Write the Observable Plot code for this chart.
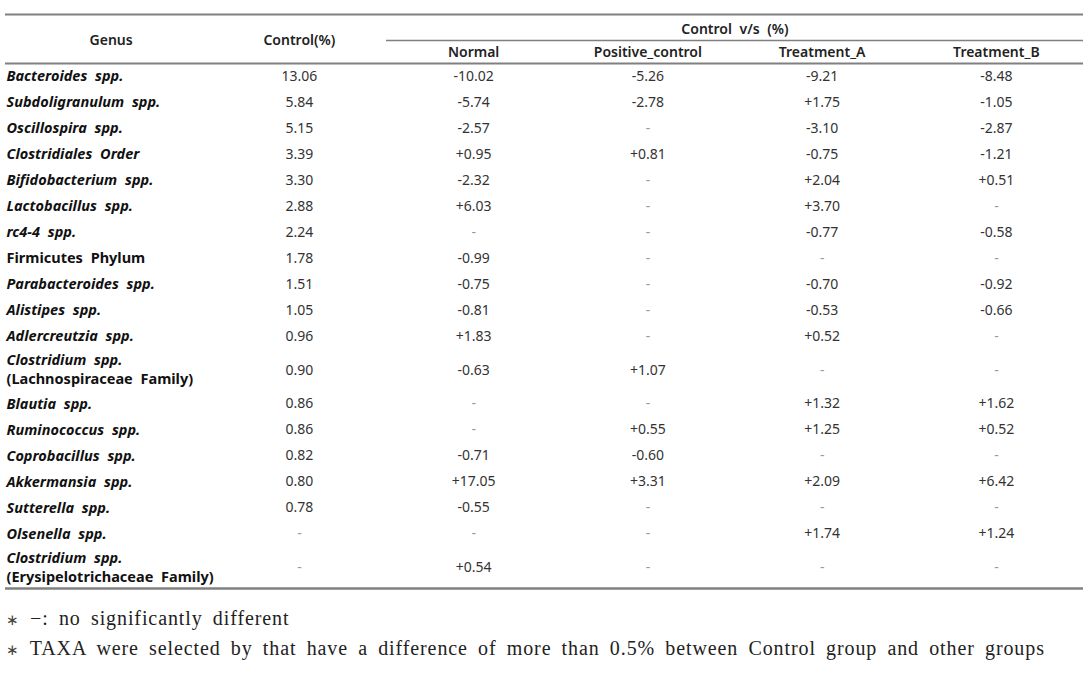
<!DOCTYPE html>
<html><head><meta charset="utf-8">
<script src="https://cdn.jsdelivr.net/npm/d3@7"></script>
<script src="https://cdn.jsdelivr.net/npm/@observablehq/plot@0.6"></script>
<style>
body{margin:0;background:#fff;}
#notes{font-family:"Liberation Serif",serif;font-size:20px;color:#222;line-height:30px;padding:3px 0 0 6px;letter-spacing:0.9px;word-spacing:4.3px;white-space:nowrap}
#notes div{height:30px;overflow:hidden}
#notes .ast{font-size:15px;color:#444;line-height:1}
</style></head><body>
<div id="chart"></div>
<div id="notes"></div>
<script>
// ---- data ----
const genus = ["Bacteroides spp.","Subdoligranulum spp.","Oscillospira spp.","Clostridiales Order","Bifidobacterium spp.","Lactobacillus spp.","rc4-4 spp.","Firmicutes Phylum","Parabacteroides spp.","Alistipes spp.","Adlercreutzia spp.","Clostridium spp.","Blautia spp.","Ruminococcus spp.","Coprobacillus spp.","Akkermansia spp.","Sutterella spp.","Olsenella spp.","Clostridium spp."];
const genusNote = [null,null,null,null,null,null,null,null,null,null,null,"(Lachnospiraceae Family)",null,null,null,null,null,null,"(Erysipelotrichaceae Family)"];
const uprightNames = ["Firmicutes Phylum"];
const control = [13.06,5.84,5.15,3.39,3.30,2.88,2.24,1.78,1.51,1.05,0.96,0.90,0.86,0.86,0.82,0.80,0.78,null,null];
const normal = [-10.02,-5.74,-2.57,0.95,-2.32,6.03,null,-0.99,-0.75,-0.81,1.83,-0.63,null,null,-0.71,17.05,-0.55,null,0.54];
const positiveControl = [-5.26,-2.78,null,0.81,null,null,null,null,null,null,null,1.07,null,0.55,-0.60,3.31,null,null,null];
const treatmentA = [-9.21,1.75,-3.10,-0.75,2.04,3.70,-0.77,null,-0.70,-0.53,0.52,null,1.32,1.25,null,2.09,null,1.74,null];
const treatmentB = [-8.48,-1.05,-2.87,-1.21,0.51,null,-0.58,null,-0.92,-0.66,null,null,1.62,0.52,null,6.42,null,1.24,null];
const columnHeaders = ["Genus","Control(%)","Normal","Positive_control","Treatment_A","Treatment_B"];
const groupHeader = "Control v/s (%)";
const footnotes = ["−: no significantly different","TAXA were selected by that have a difference of more than 0.5% between Control group and other groups"];

// ---- layout in row units ----
const rows = [];
let cursor = 0;
genus.forEach((g, i) => {
  const h = genusNote[i] ? 1.6 : 1;
  rows.push({i, name: g, note: genusNote[i], center: cursor + h / 2, upright: uprightNames.includes(g)});
  cursor += h;
});
const total = cursor;
const series = [control, normal, positiveControl, treatmentA, treatmentB];
const cells = [];
rows.forEach(r => series.forEach((s, k) => {
  const v = s[r.i];
  const label = v == null ? "-" : (k === 0 ? v.toFixed(2) : (v > 0 ? "+" : "") + v.toFixed(2));
  cells.push({col: k + 1, y: r.center, label, dash: v == null});
}));
const hdrTop = -1.885, hdrGroup = -1.31, hdrMid = -0.885, hdrSub = -0.42;

const fs = 14;
const gOpts = {y: "center", frameAnchor: "left", textAnchor: "start", dx: 1, fontSize: 14.5, fontWeight: "bold", fill: "#111"};
const plot = Plot.plot({
  width: 1088, height: 600,
  marginLeft: 5, marginRight: 5, marginTop: 0, marginBottom: 0,
  x: {domain: [-0.5, 5.5], range: [37.5, 1083], axis: null},
  y: {domain: [0, total], range: [63, 588], axis: null},
  style: {fontFamily: "'Noto Sans', sans-serif", background: "#fff", wordSpacing: "4px"},
  marks: [
    Plot.ruleY([hdrTop], {stroke: "#808080", strokeWidth: 2}),
    Plot.ruleY([{y: hdrMid, a: 1.5, b: 5.5}], {y: "y", x1: "a", x2: "b", stroke: "#808080", strokeWidth: 1.5}),
    Plot.ruleY([0], {stroke: "#808080", strokeWidth: 2}),
    Plot.ruleY([total], {stroke: "#808080", strokeWidth: 2.5}),
    // headers
    Plot.text([columnHeaders[0]], {x: 0, y: hdrMid, text: d => d, dx: -14, fontSize: fs, fontWeight: 600, fill: "#222"}),
    Plot.text([columnHeaders[1]], {x: 1, y: hdrMid, text: d => d, fontSize: fs, fontWeight: 600, fill: "#222"}),
    Plot.text([groupHeader], {x: 3.5, y: hdrGroup, text: d => d, fontSize: fs, fontWeight: 600, fill: "#222"}),
    Plot.text(columnHeaders.slice(2), {x: (d, i) => i + 2, y: hdrSub, text: d => d, fontSize: fs, fontWeight: 600, fill: "#222"}),
    // genus names
    Plot.text(rows.filter(r => !r.note && !r.upright), {...gOpts, text: "name", fontStyle: "italic"}),
    Plot.text(rows.filter(r => r.upright), {...gOpts, text: "name"}),
    Plot.text(rows.filter(r => r.note), {...gOpts, text: "name", dy: -9.5, fontStyle: "italic"}),
    Plot.text(rows.filter(r => r.note), {...gOpts, text: "note", dy: 9.5}),
    // values
    Plot.text(cells.filter(c => !c.dash), {x: "col", y: "y", text: "label", fontSize: fs, fill: "#333"}),
    Plot.text(cells.filter(c => c.dash), {x: "col", y: "y", text: "label", fontSize: fs, fill: "#999"})
  ]
});
document.getElementById("chart").appendChild(plot);
const notes = document.getElementById("notes");
footnotes.forEach(t => {
  const d = document.createElement("div");
  const a = document.createElement("span"); a.className = "ast"; a.textContent = "∗";
  d.appendChild(a); d.appendChild(document.createTextNode(" " + t));
  notes.appendChild(d);
});
</script>
</body></html>
